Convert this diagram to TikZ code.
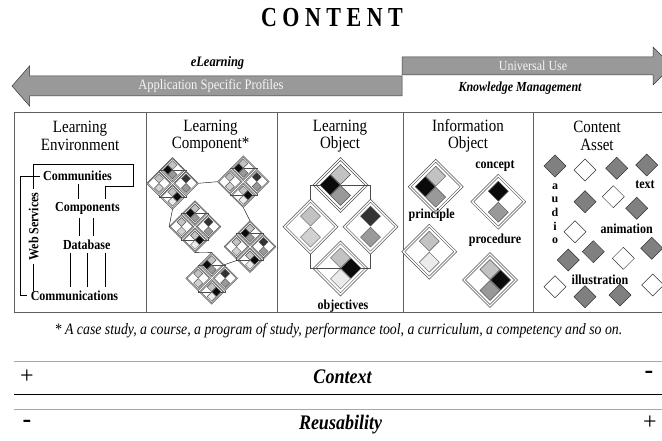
\documentclass[tikz,border=0pt]{standalone}
\usepackage{fontspec}
\usepackage{graphicx}
\setmainfont{Liberation Serif}
\usetikzlibrary{calc}

\definecolor{cellblack}{gray}{0.04}
\definecolor{celldark}{gray}{0.2}
\definecolor{cellmid}{gray}{0.6}
\definecolor{celllight}{gray}{0.76}
\definecolor{celllightb}{gray}{0.82}
\definecolor{cellvlight}{gray}{0.92}
\definecolor{arrowgray}{gray}{0.6}
\definecolor{assetgray}{gray}{0.5}

% the printed text is a little taller than the font
\newcommand{\tall}[1]{\scalebox{1}[1.15]{#1}}
% one diamond: centre x, centre y, half diagonal, style
\newcommand{\iodia}[4]{\path[#4] (#1,#2) ++(-#3,0) -- ++(#3,-#3) -- ++(#3,#3) -- ++(-#3,#3) -- cycle;}
% the four little cells: centre x, y; top, left, right, bottom
\newcommand{\iocells}[6]{%
  \iodia{#1}{#2-10.5}{10}{cellbox,#3}
  \iodia{#1-10.5}{#2}{10}{cellbox,#4}
  \iodia{#1+10.5}{#2}{10}{cellbox,#5}
  \iodia{#1}{#2+10.5}{10}{cellbox,#6}}
\newcommand{\ioshell}[2]{\iodia{#1}{#2}{27.5}{shellbox}\iodia{#1}{#2}{24.5}{innerbox}}
\newcommand{\infobj}[6]{\ioshell{#1}{#2}\iocells{#1}{#2}{#3}{#4}{#5}{#6}}
% learning object: centre x, y; scale; vertical offset of top and bottom
\newcommand{\lobj}[4]{%
  \begin{scope}[shift={(#1,#2)},scale=#3]
    \ioshell{0}{-#4}\ioshell{-30}{0}\ioshell{30}{0}\ioshell{0}{#4}
    \draw[lobframe] (-30,-27.5) -- (-30,-#4) -- (30,-#4) -- (30,-27.5);
    \draw[lobframe] (-30,27.5) -- (-30,#4) -- (30,#4) -- (30,27.5);
    \iocells{0}{-#4}{lt}{blk}{emp}{md}
    \iocells{-30}{0}{lt}{emp}{emp}{ltb}
    \iocells{30}{0}{dk}{emp}{emp}{md}
    \iocells{0}{#4}{lt}{emp}{blk}{vlt}
  \end{scope}}

\begin{document}
\begin{tikzpicture}[x=1pt,y=-1pt,
  tbl/.style={draw=gray!75!black,line width=0.7pt},
  shellbox/.style={fill=white,draw=gray!60!black,line width=0.5pt},
  innerbox/.style={draw=gray!60!black,line width=0.4pt},
  cellbox/.style={draw=gray!65!black,line width=0.4pt},
  blk/.style={fill=cellblack}, dk/.style={fill=celldark}, md/.style={fill=cellmid},
  lt/.style={fill=celllight}, ltb/.style={fill=celllightb}, vlt/.style={fill=cellvlight},
  emp/.style={draw=none,fill=none},
  lobframe/.style={draw=gray!60!black,line width=0.5pt},
  webline/.style={line width=0.9pt},
  bigarrow/.style={fill=arrowgray,draw=gray!45!black,line width=0.5pt},
  colhead/.style={font=\fontsize{15}{17.5}\selectfont,align=center},
  lbl/.style={font=\fontsize{12}{13}\selectfont\bfseries},
  assetg/.style={fill=assetgray,draw=gray!40!black,line width=0.5pt},
  assetw/.style={fill=white,draw=gray!40!black,line width=0.5pt},
  plussign/.style={font=\fontsize{24}{24}\selectfont},
  minussign/.style={font=\fontsize{26}{26}\selectfont\bfseries},
  rulethin/.style={draw=gray!70,line width=0.7pt}]
\useasboundingbox (0,0) rectangle (662,441);

\node[font=\fontsize{22}{22}\selectfont\bfseries] (title) at (332,17.5) {\scalebox{1}[1.25]{C O N T E N T}};

% the two arrows
\draw[bigarrow] (402,76) -- (29.5,76) -- (29.5,66) -- (12,86) -- (29.5,106) -- (29.5,96) -- (402,96) -- cycle;
\draw[bigarrow] (402,57) -- (653,57) -- (653,47) -- (672,66) -- (653,85) -- (653,75) -- (402,75) -- cycle;
\node[font=\fontsize{12.5}{13}\selectfont\bfseries\itshape] (elearn) at (217.5,63) {\tall{eLearning}};
\node[font=\fontsize{12.5}{13}\selectfont, text=gray!8] (asp) at (211,86) {\tall{Application Specific Profiles}};
\node[font=\fontsize{12}{13}\selectfont, text=gray!8] (univ) at (533,66) {\tall{Universal Use}};
\node[font=\fontsize{12}{13}\selectfont\bfseries\itshape] (km) at (520,88) {\tall{Knowledge Management}};

% table
\draw[tbl] (665,112.5) -- (14,112.5) -- (14,312.5) -- (665,312.5);
\draw[tbl] (146,112.5) -- (146,312.5);
\draw[tbl] (277,112.5) -- (277,312.5);
\draw[tbl] (403,112.5) -- (403,312.5);
\draw[tbl] (533.5,112.5) -- (533.5,312.5);

\node[colhead] (h1) at (80,136) {\tall{Learning}\\\tall{Environment}};
\node[colhead] (h2) at (210.5,136) {\tall{Learning}\\\tall{Component*}};
\node[colhead] (h3) at (340,136) {\tall{Learning}\\\tall{Object}};
\node[colhead] (h4) at (468,136) {\tall{Information}\\\tall{Object}};
\node[colhead] (h5) at (597,136) {\tall{Content}\\\tall{Asset}};

% learning environment
\node[lbl] (cmty) at (77.5,176) {\tall{Communities}};
\node[lbl] (cmpt) at (87.5,208.3) {\tall{Components}};
\node[lbl] (dbase) at (86.7,244.3) {\tall{Database}};
\node[lbl] (cmms) at (74.5,295.5) {\tall{Communications}};
\node[lbl,rotate=90] (websv) at (33.7,226.5) {\tall{Web Services}};
\draw[webline] (websv.east) -- (33.7,164) -- (133.3,164) -- (133.3,186) -- (105,186) -- (105,0 |- cmpt.north);
\draw[webline] (websv.west) -- (33.7,291);
\draw[webline] (cmty.west) -- (20.3,0 |- cmty.west) -- (20.3,0 |- cmms.west) -- (cmms.west);
\draw[webline] (78.3,0 |- cmty.south) -- (78.3,0 |- cmpt.north);
\draw[webline] (79,0 |- cmpt.south) -- (79,0 |- dbase.north);
\draw[webline] (93.3,0 |- cmpt.south) -- (93.3,0 |- dbase.north);
\draw[webline] (70.7,0 |- dbase.south) -- (70.7,0 |- cmms.north);
\draw[webline] (87.3,0 |- dbase.south) -- (87.3,0 |- cmms.north);
\draw[webline] (105,0 |- dbase.south) -- (105,0 |- cmms.north);

% learning component
\coordinate (c1) at (172.5,183.3);
\coordinate (c2) at (243.3,181.7);
\coordinate (c3) at (195,226.7);
\coordinate (c4) at (250,246.7);
\coordinate (c5) at (211.7,278.3);
\lobj{172.5}{183.3}{0.45}{30}
\lobj{243.3}{181.7}{0.45}{30}
\lobj{195}{226.7}{0.45}{30}
\lobj{250}{246.7}{0.45}{30}
\lobj{211.7}{278.3}{0.45}{30}
\draw ($(c1)+(25.9,0)$) -- ($(c2)+(-25.9,0)$);
\draw ($(c1)+(0,25.9)$) -- ($(c3)+(-25.9,0)$);
\draw ($(c2)+(0,25.9)$) -- ($(c4)+(0,-25.9)$);
\draw ($(c3)+(0,25.9)$) -- ($(c5)+(0,-25.9)$);
\draw ($(c5)+(12.4,-13.5)$) -- ($(c4)+(-12.4,13.5)$);

% learning object
\lobj{340.5}{226.7}{1}{41.7}
\node[lbl] (objv) at (343,306) {\tall{objectives}};

% information object
\infobj{435.7}{186.7}{lt}{blk}{emp}{md}
\infobj{498.3}{201.7}{blk}{emp}{emp}{md}
\infobj{429.3}{251.7}{lt}{emp}{emp}{vlt}
\infobj{490}{280}{lt}{emp}{blk}{md}
\node[lbl] (cncp) at (495,166) {\tall{concept}};
\node[lbl] (prnc) at (431.7,215) {\tall{principle}};
\node[lbl] (prcd) at (495,240) {\tall{procedure}};

% content asset
\iodia{555}{166}{11}{assetg}
\iodia{585}{170}{11}{assetw}
\iodia{616.7}{168.3}{11}{assetg}
\iodia{646.7}{165}{11}{assetg}
\iodia{585}{201.7}{11}{assetg}
\iodia{613.3}{196.7}{11}{assetw}
\iodia{636.7}{208.3}{11}{assetg}
\iodia{575}{231.7}{11}{assetw}
\iodia{593.3}{251.7}{11}{assetg}
\iodia{623.3}{258.3}{11}{assetw}
\iodia{651.7}{248.3}{11}{assetg}
\iodia{568.3}{260}{11}{assetg}
\iodia{555}{286.7}{11}{assetw}
\iodia{585}{296.7}{11}{assetg}
\iodia{620}{295}{11}{assetg}
\iodia{652.7}{285}{11}{assetw}
\node[lbl] (txt) at (645,185) {\tall{text}};
\node[lbl,align=center,font=\fontsize{12}{13.6}\selectfont\bfseries] (aud) at (555,213.8) {a\\u\\d\\i\\o};
\node[lbl] (anim) at (626.7,228.3) {\tall{animation}};
\node[lbl] (illu) at (600,280) {\tall{illustration}};

\node[font=\fontsize{13.8}{15}\selectfont\itshape] (fnote) at (338.5,331) {\tall{* A case study, a course, a program of study, performance tool, a curriculum, a competency and so on.}};

% context and reusability
\draw[rulethin] (14,361) -- (662,361);
\draw[line width=1pt] (14,394) -- (662,394);
\draw[rulethin] (14,409) -- (662,409);
\node[plussign] (pla) at (27,377) {+};
\node[minussign] (mia) at (649,375) {-};
\node[font=\fontsize{18}{18}\selectfont\bfseries\itshape] (ctx) at (342.5,377) {\tall{Context}};
\node[minussign] (mib) at (27,424) {-};
\node[plussign] (plb) at (650,423) {+};
\node[font=\fontsize{18}{18}\selectfont\bfseries\itshape] (reus) at (340.5,425) {\tall{Reusability}};
\end{tikzpicture}
\end{document}
